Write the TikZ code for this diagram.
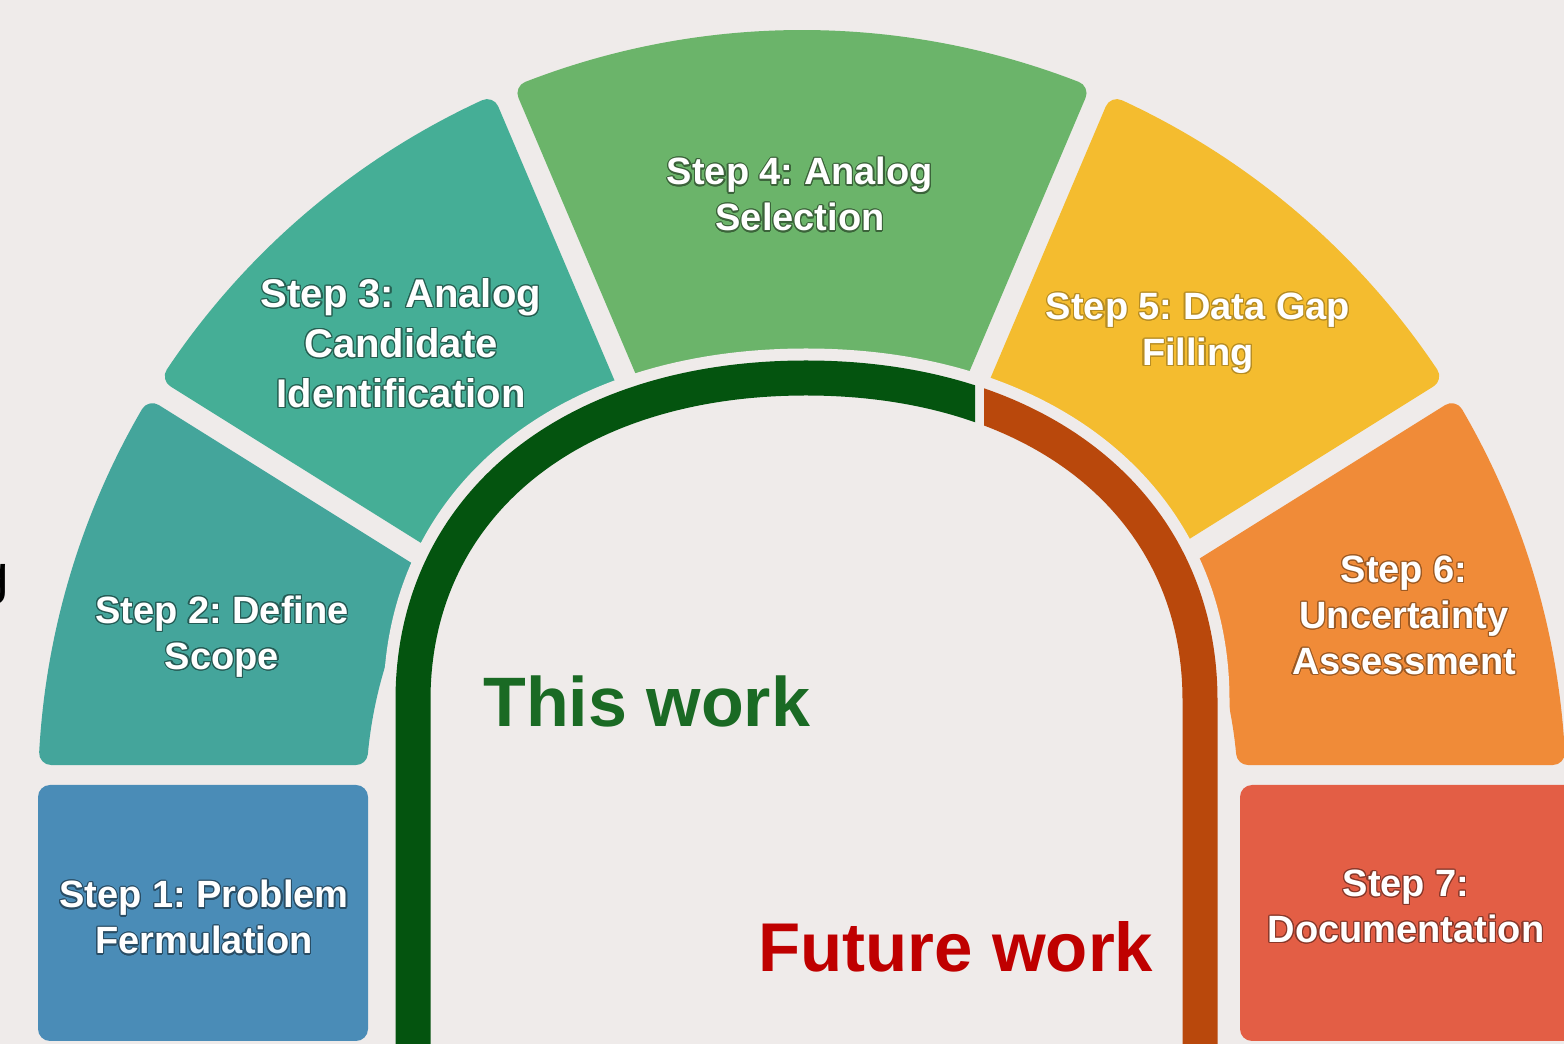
\documentclass[tikz,border=0pt]{standalone}
\usepackage{fontspec}
\setmainfont{Liberation Sans}
\usepackage{tikz}
\usepackage[copies]{contour}
\contourlength{0.6pt}
\frenchspacing
\definecolor{Paper}{rgb}{0.937,0.922,0.918}
\definecolor{Blue}{rgb}{0.29,0.549,0.718}
\definecolor{Teal}{rgb}{0.267,0.647,0.608}
\definecolor{Jade}{rgb}{0.271,0.682,0.588}
\definecolor{Leaf}{rgb}{0.42,0.706,0.416}
\definecolor{Amber}{rgb}{0.957,0.737,0.184}
\definecolor{Tangerine}{rgb}{0.941,0.545,0.22}
\definecolor{Coral}{rgb}{0.89,0.369,0.271}
\definecolor{Forest}{rgb}{0.016,0.329,0.059}
\definecolor{Rust}{rgb}{0.725,0.282,0.047}
\definecolor{ThisGreen}{rgb}{0.102,0.416,0.141}
\definecolor{FutureRed}{rgb}{0.75,0,0}
\newcommand\rin{448}
\newcommand\rout{752}
% ring piece: start angle, offset, end angle, offset, colour
\newcommand\stepseg[5]{%
  \filldraw[seg,fill=#5,draw=#5]
    ({#1+asin(#2/\rin)}:\rin) -- ({#1+asin(#2/\rout)}:\rout)
    arc[start angle={#1+asin(#2/\rout)}, end angle={#3-asin(#4/\rout)}, radius=\rout]
    -- ({#3-asin(#4/\rin)}:\rin)
    arc[start angle={#3-asin(#4/\rin)}, end angle={#1+asin(#2/\rin)}, radius=\rin]
    -- cycle;}
\newcommand\lbl[2]{\contour{#1}{#2}}

\begin{document}
\begin{tikzpicture}[x=0.5pt,y=0.5pt,
  seg/.style={line width=12pt,line join=round},
  box/.style={rounded corners=6pt},
  steptext/.style={text=white,inner sep=0pt,align=center,
    font=\bfseries\fontsize{19}{23}\selectfont},
  arch/.style={line width=17.5pt},
  archgap/.style={line width=29.5pt,Paper}]
\fill[Paper] (0,0) rectangle (1564,1044);
\useasboundingbox (0,0) rectangle (1564,1044);
\clip (0,0) rectangle (1564,1044);
% letter cut by the left edge
\node[anchor=base west,inner sep=0pt,font=\fontsize{27.5}{30}\selectfont] (edge) at (-22,450) {g};
% first and last step
\fill[Blue,box] (38,3) rectangle (368,259);
\fill[Coral,box] (1240,3) rectangle (1590,259);
% steps 2 to 6 round the ring
\begin{scope}[shift={(802,250)}]
  \stepseg{148}{23}{180}{41}{Teal}
  \stepseg{113}{23}{148}{23}{Jade}
  \stepseg{67}{23}{113}{23}{Leaf}
  \stepseg{32}{23}{67}{23}{Amber}
  \stepseg{0}{41}{32}{23}{Tangerine}
\end{scope}
% inner arch: clear a margin, then green part and orange part
\draw[archgap] (413,-20) -- (413,344) .. controls (413,537) and (570,666) .. (806,666)
  .. controls (1042,666) and (1200,537) .. (1200,344) -- (1200,-20);
\begin{scope}
  \clip (0,-20) rectangle (975,1044);
  \draw[arch,Forest] (413,-20) -- (413,344) .. controls (413,537) and (570,666) .. (806,666)
    .. controls (1042,666) and (1200,537) .. (1200,344) -- (1200,-20);
\end{scope}
\begin{scope}
  \clip (984,-20) rectangle (1564,1044);
  \draw[arch,Rust] (413,-20) -- (413,344) .. controls (413,537) and (570,666) .. (806,666)
    .. controls (1042,666) and (1200,537) .. (1200,344) -- (1200,-20);
\end{scope}

\node[steptext] (s1) at (204,126) {\lbl{Blue!55!black}{Step 1: Problem}\\\lbl{Blue!55!black}{Fermulation}};
\node[steptext] (s2) at (222,407) {\lbl{Teal!55!black}{Step 2: Define}\\\lbl{Teal!55!black}{Scope}};
\node[steptext,font=\bfseries\fontsize{20}{25}\selectfont] (s3) at (401,700)
  {\lbl{Jade!55!black}{Step 3: Analog}\\\lbl{Jade!55!black}{Candidate}\\\lbl{Jade!55!black}{Identification}};
\node[steptext] (s4) at (800,849) {\lbl{Leaf!55!black}{Step 4: Analog}\\\lbl{Leaf!55!black}{Selection}};
\node[steptext] (s5) at (1198,710) {\lbl{Amber!75!black}{Step 5: Data Gap}\\\lbl{Amber!75!black}{Filling}};
\node[steptext] (s6) at (1404,428)
  {\lbl{Tangerine!65!black}{Step 6:}\\\lbl{Tangerine!65!black}{Uncertainty}\\\lbl{Tangerine!65!black}{Assessment}};
\node[steptext] (s7) at (1406,137) {\lbl{Coral!60!black}{Step 7:}\\\lbl{Coral!60!black}{Documentation}};

\node[anchor=base west,inner sep=0pt,text=ThisGreen,font=\bfseries\fontsize{35}{40}\selectfont] (this) at (483,317) {This work};
\node[anchor=base west,inner sep=0pt,text=FutureRed,font=\bfseries\fontsize{34.5}{40}\selectfont] (future) at (758,72) {Future work};
\end{tikzpicture}
\end{document}
